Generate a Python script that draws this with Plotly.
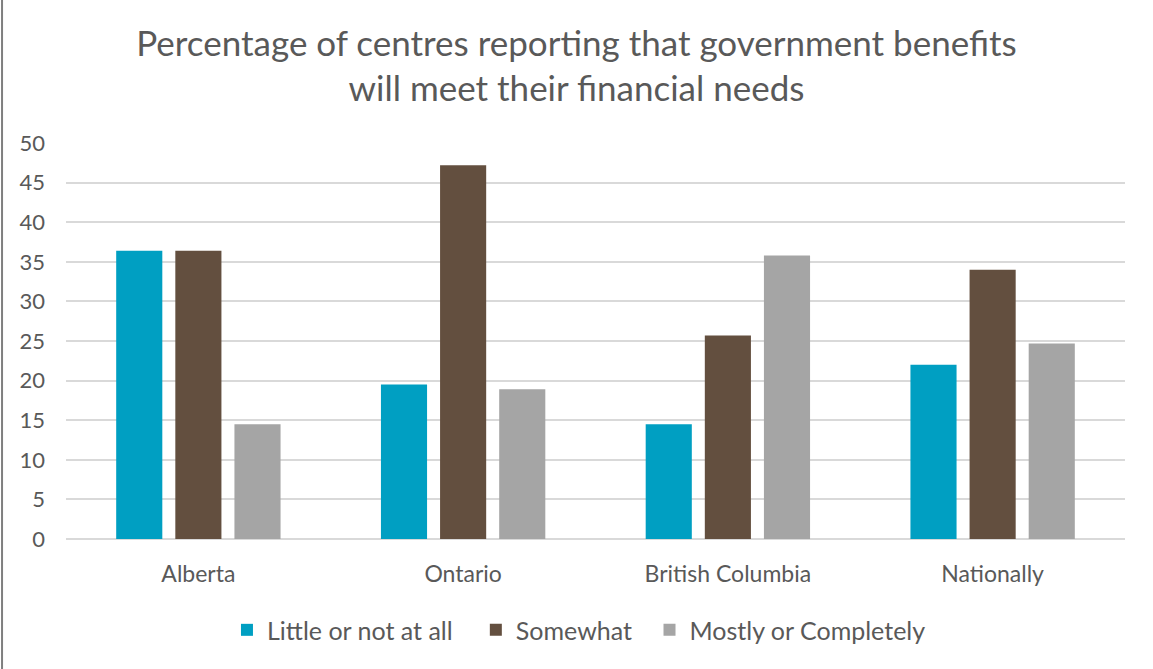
import plotly.graph_objects as go

categories = ["Alberta", "Ontario", "British Columbia", "Nationally"]
series_names = ["Little or not at all", "Somewhat", "Mostly or Completely"]
little = [36.4, 19.5, 14.5, 22.0]
somewhat = [36.4, 47.2, 25.7, 34.0]
mostly = [14.5, 18.9, 35.8, 24.7]
colors = ["#009FC2", "#634F3F", "#A5A5A5"]
legend_ids = ["legend", "legend2", "legend3"]
legend_x = [0.152, 0.387, 0.551]

fig = go.Figure()
for name, vals, col, lid in zip(series_names, [little, somewhat, mostly], colors, legend_ids):
    fig.add_trace(go.Bar(x=categories, y=vals, name=name, marker_color=col,
                         marker_line_width=0, legend=lid))

font_fam = "Lato, 'Open Sans', sans-serif"
leg_common = dict(orientation="h", y=-0.23, yanchor="middle", xanchor="left",
                  font=dict(size=25, color="#595959"), itemwidth=30,
                  bgcolor="rgba(0,0,0,0)")
fig.update_layout(
    width=1153, height=669,
    paper_bgcolor="white", plot_bgcolor="white",
    font=dict(family=font_fam, color="#595959", size=22),
    title=dict(text="Percentage of centres reporting that government benefits<br>will meet their financial needs",
               x=0.5, xanchor="center", y=1 - 55.5 / 669, yanchor="middle",
               font=dict(size=35, color="#595959", family=font_fam)),
    barmode="group", bargap=0.33, bargroupgap=0.22,
    margin=dict(l=66, r=28, t=143, b=130),
    showlegend=True,
    legend=dict(x=legend_x[0], **leg_common),
    legend2=dict(x=legend_x[1], **leg_common),
    legend3=dict(x=legend_x[2], **leg_common),
    xaxis=dict(showgrid=False, showline=False, ticks="", tickfont=dict(size=23),
               ticklabelstandoff=19),
    yaxis=dict(range=[0, 50], dtick=5, showgrid=True, gridcolor="#D9D9D9",
               gridwidth=1.5, zeroline=True, zerolinecolor="#D9D9D9", zerolinewidth=1.5,
               showline=False, ticks="", ticklabelstandoff=20,
               tickfont=dict(size=22)),
)
fig.add_shape(type="line", xref="paper", yref="paper", x0=-0.0604, x1=-0.0604,
              y0=-0.34, y1=1.37, line=dict(color="#7F7F7F", width=2))
fig.write_html("out.html", config={"displayModeBar": False},
               post_script="document.body.style.margin='0px';")
